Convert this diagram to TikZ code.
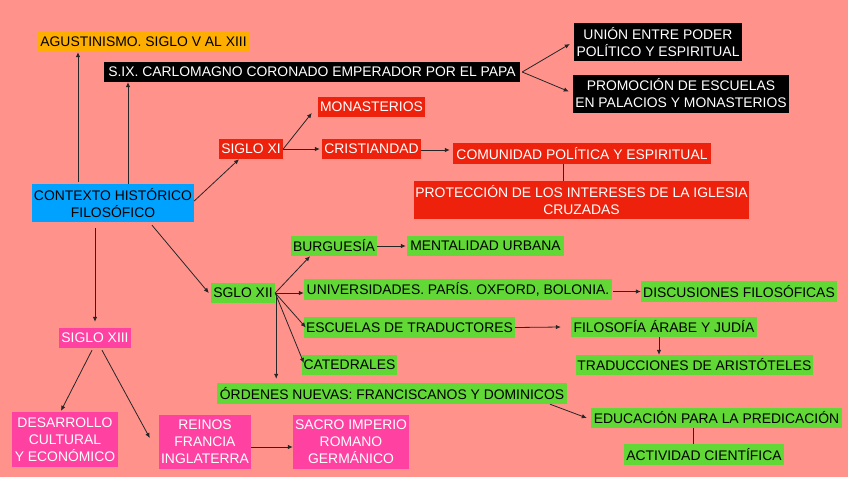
\documentclass[tikz,border=0pt]{standalone}
\usepackage{fontspec}
\setmainfont{Liberation Sans}
\usetikzlibrary{arrows.meta,positioning}
\definecolor{bgsalmon}{RGB}{255,147,140}
\definecolor{keyorange}{RGB}{254,174,0}
\definecolor{keyred}{RGB}{238,34,12}
\definecolor{keygreen}{RGB}{97,216,54}
\definecolor{keyblue}{RGB}{0,162,255}
\definecolor{keypink}{RGB}{255,66,161}

\begin{document}
\begin{tikzpicture}[x=1pt,y=-1pt,
        box/.style={rectangle,inner sep=0pt,align=center,
          font=\fontsize{13.9}{17}\selectfont},
        orangebox/.style={box,fill=keyorange,text=black},
        blackbox/.style={box,fill=black,text=white},
        redbox/.style={box,fill=keyred,text=white},
        bluebox/.style={box,fill=keyblue,text=black},
        greenbox/.style={box,fill=keygreen,text=black},
        pinkbox/.style={box,fill=keypink,text=white},
        arrow/.style={-{Latex[length=5pt,width=4.5pt]},line width=0.8pt,draw=black!85},
        link/.style={line width=0.8pt,draw=black!85}]
        \fill[bgsalmon] (0,0) rectangle (848,477);
        \useasboundingbox (0,0) rectangle (848,477);
        % top branch
        \node[orangebox,minimum width=211pt,minimum height=20pt] (agus) at (143.5,42) {AGUSTINISMO. SIGLO V AL XIII};
        \node[blackbox,minimum width=416pt,minimum height=20pt] (carlo) at (312,72) {S.IX. CARLOMAGNO CORONADO EMPERADOR POR EL PAPA};
        \node[blackbox,minimum width=168pt,minimum height=38pt] (union) at (658,42) {UNIÓN ENTRE PODER\\POLÍTICO Y ESPIRITUAL};
        \node[blackbox,minimum width=216pt,minimum height=38pt] (promo) at (681,93.5) {PROMOCIÓN DE ESCUELAS\\EN PALACIOS Y MONASTERIOS};
        % siglo XI
        \node[redbox,minimum width=107pt,minimum height=20pt] (monas) at (371.5,107) {MONASTERIOS};
        \node[redbox,minimum width=64pt,minimum height=20pt] (sxi) at (251,149) {SIGLO XI};
        \node[redbox,minimum width=99pt,minimum height=20pt] (crist) at (371.5,149) {CRISTIANDAD};
        \node[redbox,minimum width=258pt,minimum height=21pt] (comun) at (582,153.5) {COMUNIDAD POLÍTICA Y ESPIRITUAL};
        \node[redbox,minimum width=335pt,minimum height=38pt] (prot) at (581.5,200) {PROTECCIÓN DE LOS INTERESES DE LA IGLESIA\\CRUZADAS};
        \node[bluebox,minimum width=162pt,minimum height=38pt] (contexto) at (113,203) {CONTEXTO HISTÓRICO\\FILOSÓFICO};
        % siglo XII
        \node[greenbox,minimum width=64pt,minimum height=20pt] (sxii) at (243,293) {SGLO XII};
        \node[greenbox,minimum width=86pt,minimum height=20pt] (burg) at (334,246) {BURGUESÍA};
        \node[greenbox,minimum width=157pt,minimum height=20pt] (menta) at (485.5,246) {MENTALIDAD URBANA};
        \node[greenbox,minimum width=308pt,minimum height=21pt] (univ) at (458,289.5) {UNIVERSIDADES. PARÍS. OXFORD, BOLONIA.};
        \node[greenbox,minimum width=196pt,minimum height=21pt] (discu) at (739,291.5) {DISCUSIONES FILOSÓFICAS};
        \node[greenbox,minimum width=211pt,minimum height=21pt] (escu) at (409.5,327.5) {ESCUELAS DE TRADUCTORES};
        \node[greenbox,minimum width=186pt,minimum height=20pt] (filo) at (664,327) {FILOSOFÍA ÁRABE Y JUDÍA};
        \node[greenbox,minimum width=237pt,minimum height=20pt] (tradu) at (694.5,365) {TRADUCCIONES DE ARISTÓTELES};
        \node[greenbox,minimum width=95pt,minimum height=20pt] (cated) at (349.5,365) {CATEDRALES};
        \node[greenbox,minimum width=350pt,minimum height=21pt] (orden) at (392,393.5) {ÓRDENES NUEVAS: FRANCISCANOS Y DOMINICOS};
        \node[greenbox,minimum width=251pt,minimum height=20pt] (educa) at (716.5,418) {EDUCACIÓN PARA LA PREDICACIÓN};
        \node[greenbox,minimum width=160pt,minimum height=21pt] (activ) at (704,454.5) {ACTIVIDAD CIENTÍFICA};
        % siglo XIII
        \node[pinkbox,minimum width=72pt,minimum height=20pt] (sxiii) at (95,338) {SIGLO XIII};
        \node[pinkbox,minimum width=106pt,minimum height=55pt] (desa) at (65,439.5) {DESARROLLO\\CULTURAL\\Y ECONÓMICO};
        \node[pinkbox,minimum width=92pt,minimum height=54pt] (reinos) at (205,442) {REINOS\\FRANCIA\\INGLATERRA};
        \node[pinkbox,minimum width=116pt,minimum height=54pt] (sacro) at (351,442) {SACRO IMPERIO\\ROMANO\\GERMÁNICO};
        % connectors
        \draw[arrow] ([xshift=-35pt,yshift=2pt]contexto.north) -- ([xshift=-35pt]contexto.north |- agus.south);
        \draw[arrow] ([xshift=15pt]contexto.north) -- ([xshift=15pt]contexto.north |- carlo.south);
        \draw[arrow] ([xshift=2pt]carlo.east) -- ([xshift=-4pt,yshift=-2pt]union.west);
        \draw[arrow] ([xshift=2pt]carlo.east) -- ([xshift=-4pt,yshift=2pt]promo.west);
        \draw[arrow] ([yshift=2pt]contexto.east) -- ([xshift=-12pt]sxi.south);
        \draw[arrow] (sxi.east) -- ([xshift=-6pt,yshift=-6pt]monas.west);
        \draw[arrow] (sxi.east) -- ([xshift=-2pt]crist.west);
        \draw[arrow] ([yshift=-1pt]crist.east) -- ([xshift=-3pt,yshift=-1pt]crist.east -| comun.west);
        \draw[link] ([xshift=-19pt]comun.south) -- ([xshift=-19pt]comun.south |- prot.north);
        \draw[arrow] ([xshift=39pt,yshift=-3pt]contexto.south) -- ([xshift=-2pt]sxii.west);
        \draw[arrow] ([xshift=-18pt,yshift=-6pt]contexto.south) -- ([yshift=6pt]sxiii.north);
        \draw[arrow] (sxii.east) -- ([xshift=-24pt]burg.south);
        \draw[arrow] (sxii.east) -- (sxii.east -| univ.west);
        \draw[arrow] (sxii.east) -- ([xshift=2pt]escu.west);
        \draw[arrow] (sxii.east) -- ([xshift=2pt,yshift=2pt]cated.west);
        \draw[arrow] ([xshift=1pt]sxii.east) -- ([xshift=1pt,yshift=4pt]sxii.east |- orden.north);
        \draw[arrow] (burg.east) -- ([xshift=-1pt]menta.west);
        \draw[arrow] ([xshift=1pt,yshift=-2pt]univ.east) -- ([yshift=-2pt]univ.east -| discu.west);
        \draw[arrow] (escu.east) -- ([xshift=-10pt]filo.west);
        \draw[arrow] ([xshift=-5pt]filo.south) -- ([xshift=-5pt]filo.south |- tradu.north);
        \draw[arrow] ([xshift=158pt]orden.south) -- ([xshift=-4pt]educa.west);
        \draw[link] ([xshift=-23.5pt]educa.south) -- ([xshift=-23.5pt]educa.south |- activ.north);
        \draw[arrow] ([xshift=-3pt,yshift=-2pt]sxiii.south) -- ([xshift=-4pt,yshift=1pt]desa.north);
        \draw[arrow] ([xshift=7pt,yshift=-2pt]sxiii.south) -- ([xshift=-9pt,yshift=4pt]reinos.west);
        \draw[arrow] ([yshift=-5pt]reinos.east) -- ([yshift=-5pt]reinos.east -| sacro.west);
      \end{tikzpicture}
\end{document}
